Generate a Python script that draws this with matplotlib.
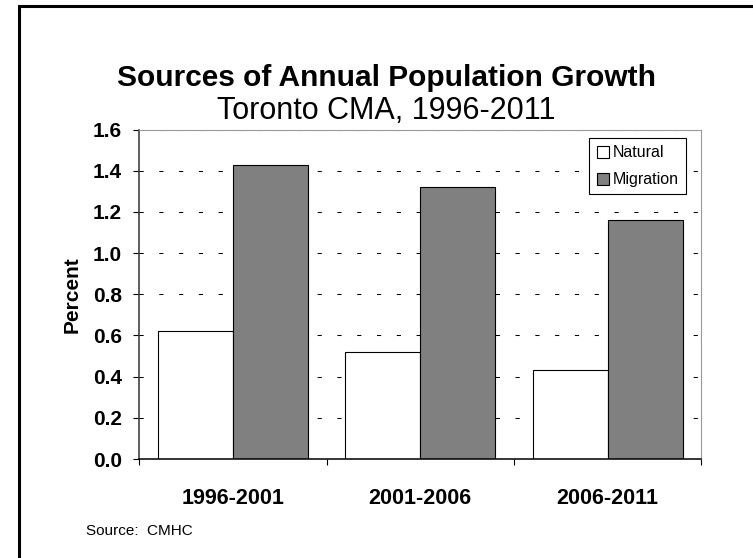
import matplotlib
matplotlib.use("Agg")
import matplotlib.pyplot as plt
from matplotlib.patches import Rectangle
import numpy as np

# Data
# ---------------------------------------------------------------
periods = ["1996-2001", "2001-2006", "2006-2011"]
natural = [0.62, 0.52, 0.43]
migration = [1.43, 1.32, 1.16]
y_ticks = [0.0, 0.2, 0.4, 0.6, 0.8, 1.0, 1.2, 1.4, 1.6]

plt.rcParams['font.family'] = ['Liberation Sans', 'DejaVu Sans']

fig = plt.figure(figsize=(7.53, 5.58), dpi=100)
ax = fig.add_axes([0.1846, 0.1774, 0.7470, 0.5905])

x = np.arange(len(periods))
w = 0.4

# Grid (dashed, behind bars)
for yv in y_ticks[1:]:
    ax.axhline(yv, color='black', lw=0.75, ls=(0, (4, 15)), zorder=1)

ax.bar(x - w / 2, natural, w, color='white', edgecolor='black', lw=0.8,
       label='Natural', zorder=2)
ax.bar(x + w / 2, migration, w, color='#808080', edgecolor='black', lw=0.8,
       label='Migration', zorder=2)

ax.set_xlim(-0.5, len(periods) - 0.5)
ax.set_ylim(0, 1.6)

# y axis
ax.set_yticks(y_ticks)
ax.set_yticklabels([f"{v:.1f}" for v in y_ticks], fontsize=15, fontweight='bold')
ax.tick_params(axis='y', direction='out', length=4.5, width=0.8, pad=8)
ax.set_ylabel('Percent', fontsize=15, fontweight='bold', labelpad=8)

# x axis: labels at centers, ticks at boundaries
ax.set_xticks(x)
ax.set_xticklabels(periods, fontsize=15.5, fontweight='bold')
ax.set_xticks(np.arange(len(periods) + 1) - 0.5, minor=True)
ax.tick_params(axis='x', which='major', length=0, pad=21)
ax.tick_params(axis='x', which='minor', direction='out', length=4.5, width=0.8)

# Spines
ax.spines['left'].set_color('#333333')
ax.spines['left'].set_linewidth(1.1)
ax.spines['bottom'].set_color('black')
ax.spines['bottom'].set_linewidth(1.1)
for s in ('top', 'right'):
    ax.spines[s].set_color('#9a9a9a')
    ax.spines[s].set_linewidth(0.8)

# Legend
leg = ax.legend(loc='upper right', bbox_to_anchor=(0.972, 0.974), borderaxespad=0,
                fontsize=11.5, fancybox=False, framealpha=1, edgecolor='black',
                handlelength=0.75, handleheight=0.75, handletextpad=0.25,
                labelspacing=0.75, borderpad=0.45)
leg.get_frame().set_linewidth(0.8)

# Titles
fig.text(0.513, 1 - 78 / 558, 'Sources of Annual Population Growth', ha='center', va='center',
         fontsize=21.5, fontweight='bold')
fig.text(0.513, 1 - 111 / 558, 'Toronto CMA, 1996-2011', ha='center', va='center', fontsize=22)

# Source note
fig.text(86 / 753, 1 - 531 / 558, 'Source:  CMHC', ha='left', va='center', fontsize=11)

# Outer frame (left and top edges visible)
fig.patches.append(Rectangle((18.5 / 753, -0.1), 1.2, 1 - 6 / 558 + 0.1,
                             transform=fig.transFigure, fill=False,
                             edgecolor='black', lw=2.2))

fig.savefig('out.png', dpi=100)
